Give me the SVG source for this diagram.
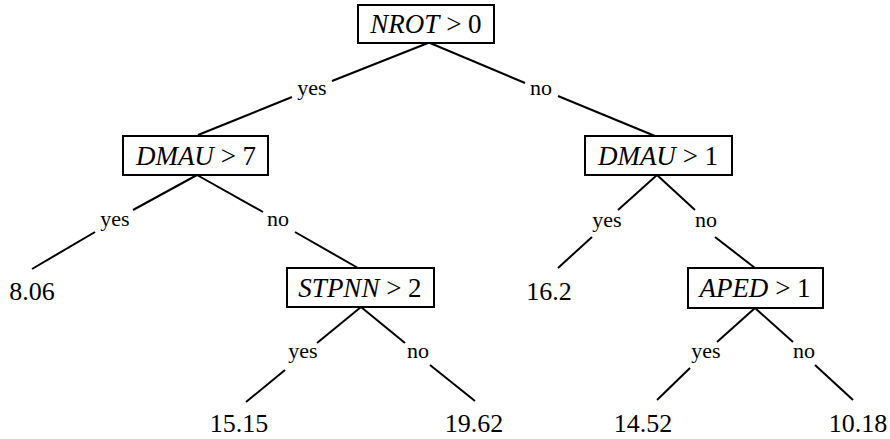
<svg xmlns="http://www.w3.org/2000/svg" width="890" height="439" viewBox="0 0 890 439">
<style>
.box{fill:#fff;stroke:#000;stroke-width:2}
.edge{stroke:#000;stroke-width:2;fill:none}
.nt{font-size:27px;fill:#000;text-anchor:middle}
.it{font-style:italic}
.lbl{font-size:22px;fill:#000;text-anchor:middle}
.leaf{font-size:26px;fill:#000;text-anchor:middle}
</style>
<rect width="890" height="439" fill="#fff"/>
<g id="connectors">
<line class="edge" x1="428" y1="43" x2="332" y2="81"/>
<line class="edge" x1="292" y1="97" x2="198" y2="135"/>
<line class="edge" x1="430" y1="43" x2="525" y2="83"/>
<line class="edge" x1="558" y1="96" x2="655" y2="136"/>
<line class="edge" x1="197" y1="175" x2="133" y2="210"/>
<line class="edge" x1="95" y1="232" x2="32" y2="269"/>
<line class="edge" x1="197" y1="175" x2="263" y2="212"/>
<line class="edge" x1="295" y1="232" x2="358" y2="268"/>
<line class="edge" x1="361" y1="307" x2="317" y2="343"/>
<line class="edge" x1="285" y1="370" x2="246" y2="402"/>
<line class="edge" x1="361" y1="307" x2="405" y2="343"/>
<line class="edge" x1="430" y1="365" x2="475" y2="401"/>
<line class="edge" x1="657" y1="175" x2="618" y2="210"/>
<line class="edge" x1="592" y1="237" x2="558" y2="268"/>
<line class="edge" x1="657" y1="175" x2="695" y2="210"/>
<line class="edge" x1="715" y1="237" x2="755" y2="268"/>
<line class="edge" x1="755" y1="308" x2="717" y2="342"/>
<line class="edge" x1="690" y1="368" x2="657" y2="400"/>
<line class="edge" x1="755" y1="308" x2="793" y2="342"/>
<line class="edge" x1="815" y1="365" x2="853" y2="400"/>
<g font-family="Liberation Serif, serif">
<text class="lbl" x="312" y="95">yes</text>
<text class="lbl" x="541" y="95">no</text>
<text class="lbl" x="115" y="226">yes</text>
<text class="lbl" x="278" y="226">no</text>
<text class="lbl" x="303" y="358">yes</text>
<text class="lbl" x="418" y="358">no</text>
<text class="lbl" x="607" y="227">yes</text>
<text class="lbl" x="706" y="227">no</text>
<text class="lbl" x="706" y="358">yes</text>
<text class="lbl" x="804" y="358">no</text>
</g>
</g>
<g id="n_root" font-family="Liberation Serif, serif">
<rect class="box" x="358" y="5" width="136" height="38"/>
<text class="nt" x="426" y="33"><tspan class="it">NROT</tspan> &gt; 0</text>
</g>
<g id="n_dmau7" font-family="Liberation Serif, serif">
<rect class="box" x="123" y="136" width="145" height="39"/>
<text class="nt" x="196" y="165"><tspan class="it">DMAU</tspan> &gt; 7</text>
</g>
<g id="n_dmau1" font-family="Liberation Serif, serif">
<rect class="box" x="585" y="136" width="147" height="39"/>
<text class="nt" x="658" y="165"><tspan class="it">DMAU</tspan> &gt; 1</text>
</g>
<g id="n_stpnn" font-family="Liberation Serif, serif">
<rect class="box" x="287" y="268" width="147" height="39"/>
<text class="nt" x="360" y="297"><tspan class="it">STPNN</tspan> &gt; 2</text>
</g>
<g id="n_aped" font-family="Liberation Serif, serif">
<rect class="box" x="688" y="268" width="135" height="40"/>
<text class="nt" x="755" y="297"><tspan class="it">APED</tspan> &gt; 1</text>
</g>
<g font-family="Liberation Serif, serif">
<g id="leaf_806"><text class="leaf" x="32" y="300">8.06</text></g>
<g id="leaf_162"><text class="leaf" x="549" y="300">16.2</text></g>
<g id="leaf_1515"><text class="leaf" x="239" y="432">15.15</text></g>
<g id="leaf_1962"><text class="leaf" x="474" y="432">19.62</text></g>
<g id="leaf_1452"><text class="leaf" x="643" y="432">14.52</text></g>
<g id="leaf_1018"><text class="leaf" x="858" y="432">10.18</text></g>
</g>
</svg>
